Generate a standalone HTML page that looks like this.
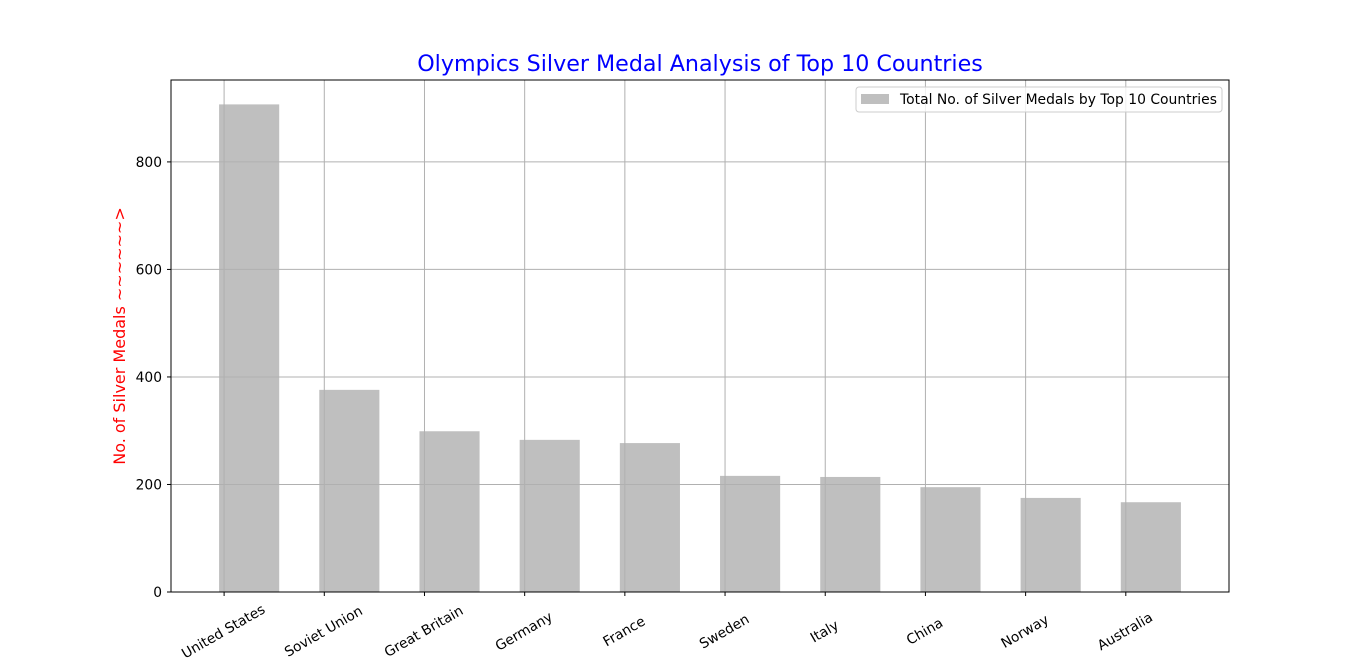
<!DOCTYPE html>
<html><head><meta charset="utf-8"><style>
html,body{margin:0;padding:0;background:#fff;}
svg{display:block;font-family:"DejaVu Sans","Liberation Sans",sans-serif;}
</style></head><body>
<svg id="chart" width="1366" height="665" viewBox="0 0 1366 665">
<text x="700" y="71" text-anchor="middle" font-size="22.2" fill="#0000ff">Olympics Silver Medal Analysis of Top 10 Countries</text>
<text transform="translate(125,336) rotate(-90)" text-anchor="middle" font-size="16" fill="#ff0000">No. of Silver Medals ~~~~~~&gt;</text>
<g id="bars"></g><g id="grid"></g><g id="ticks"></g>
<rect x="171" y="80" width="1058" height="512" fill="none" stroke="#000" stroke-width="1"/>
<g>
<rect x="856" y="87" width="366" height="25" rx="3" fill="#fff" fill-opacity="0.8" stroke="#ccc"/>
<rect x="861" y="94" width="28" height="10" fill="#bfbfbf"/>
<text x="900" y="104" font-size="13.9" fill="#000">Total No. of Silver Medals by Top 10 Countries</text>
</g>
</svg>
<script>
const cats = ["United States","Soviet Union","Great Britain","Germany","France","Sweden","Italy","China","Norway","Australia"];
const vals = [907,376,299,283,277,216,214,195,175,167];
const yTicks = [0,200,400,600,800];
const NS="http://www.w3.org/2000/svg";
const L=171,R=1229,T=80,B=592,bw=0.6,tickOff=-0.25;
const xmin=-bw/2-(cats.length-1+bw)*0.05, xmax=cats.length-1+bw/2+(cats.length-1+bw)*0.05;
const ymax=Math.max(...vals)*1.05;
const xs=v=>L+(v-xmin)/(xmax-xmin)*(R-L);
const ys=v=>B-v/ymax*(B-T);
function mk(tag,attrs,parent){const e=document.createElementNS(NS,tag);for(const k in attrs)e.setAttribute(k,attrs[k]);document.getElementById(parent).appendChild(e);return e;}
vals.forEach((v,i)=>{
  const r=mk("rect",{x:xs(i-bw/2),y:ys(v),width:xs(i+bw/2)-xs(i-bw/2),height:B-ys(v),fill:"#bfbfbf"},"bars");
  
  
});
cats.forEach((c,i)=>{
  const x=xs(i+tickOff);
  const g=mk("line",{x1:x,x2:x,y1:T,y2:B,stroke:"#b0b0b0","stroke-width":1},"grid");
  
  
  const tk=mk("line",{x1:x,x2:x,y1:B,y2:B+4,stroke:"#000"},"ticks");
  
  
  const t=mk("text",{x:0,y:5,"text-anchor":"middle","font-size":13.8,transform:`translate(${x-1},${B+39}) rotate(-30)`},"ticks");
  t.textContent=c;
  
  
});
yTicks.forEach(v=>{
  const y=ys(v);
  if(v>0){const g=mk("line",{x1:L,x2:R,y1:y,y2:y,stroke:"#b0b0b0","stroke-width":1},"grid");
  
  }
  const tk=mk("line",{x1:L-4,x2:L,y1:y,y2:y,stroke:"#000"},"ticks");
  
  
  const t=mk("text",{x:L-9,y:y+5,"text-anchor":"end","font-size":13.8},"ticks");
  t.textContent=v;
  
  
});
</script>
</body></html>
